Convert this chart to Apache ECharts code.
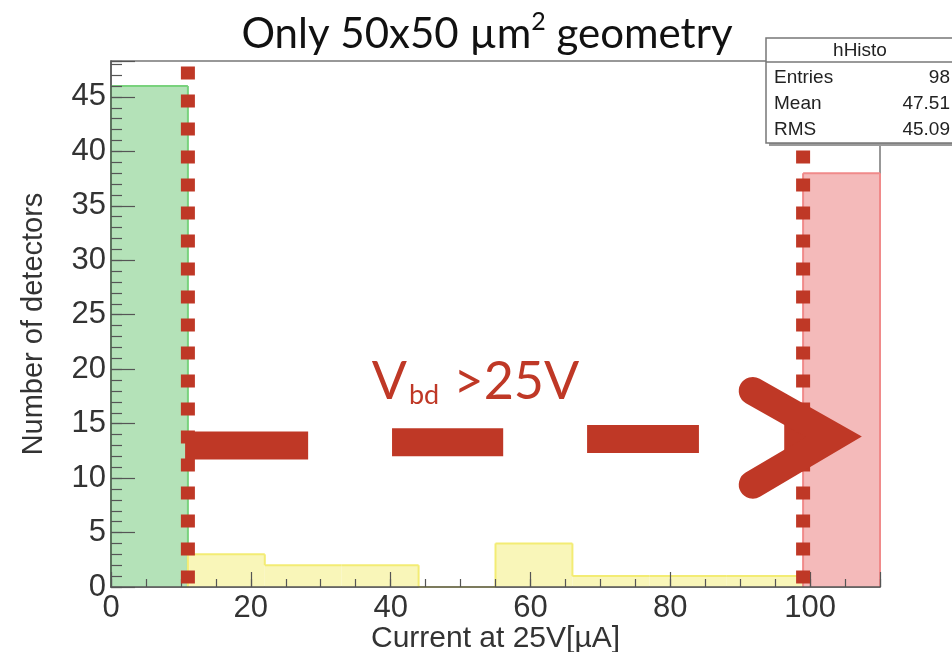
<!DOCTYPE html>
<html>
<head>
<meta charset="utf-8">
<script src="https://cdn.jsdelivr.net/npm/echarts@6/dist/echarts.min.js"></script>
<style>
html, body { margin: 0; padding: 0; background: #ffffff; }
#chart { width: 952px; height: 652px; }
</style>
</head>
<body>
<div id="chart"></div>
<script>
// Leakage current at 25 V for the 50x50 µm² pixel geometry (hHisto)
const binEdges = [0, 11, 22, 33, 44, 55, 66, 77, 88, 99, 110];
const binCounts = [46, 3, 2, 2, 0, 4, 1, 1, 1, 38];
const xTickLabels = [0, 20, 40, 60, 80, 100];
const yTickLabels = [0, 5, 10, 15, 20, 25, 30, 35, 40, 45];
const cutLow = 11;    // current below which detectors are good
const cutHigh = 99;   // current above which breakdown occurs below 25 V
const statsTitle = 'hHisto';
const statsNames = ['Entries', 'Mean', 'RMS'];
const statsValues = ['98', '47.51', '45.09'];

// dashed arrow pointing at the breakdown bin (data units)
const arrowDashes = [[10.6, 28.2, 13.0], [40.2, 56.1, 13.3], [68.1, 84.1, 13.6]];
const arrowHead = { tip: [103.4, 13.8], armX: 91.8, armTop: 18.0, armBottom: 9.4, neckX: 96.3 };
const arrowLabelPos = [37.3, 16.4];

const RED = '#bf3826';
const fills = ['#b4e2b8', '#f9f6b9', '#f4baba'];
const edges = ['#79d27d', '#f3ec74', '#f08a8a'];
const FONT = '"Liberation Sans", Arial, Helvetica, sans-serif';
const SLIDE_FONT = 'Lato, "Open Sans", sans-serif';

function groupOf(i) {
  if (binEdges[i + 1] <= cutLow) return 0;
  if (binEdges[i] >= cutHigh) return 2;
  return 1;
}

const histData = binCounts.map((c, i) => [binEdges[i], binEdges[i + 1], c, i]);

function renderBin(params, api) {
  const x0 = api.value(0), x1 = api.value(1), h = api.value(2), i = api.value(3);
  const g = groupOf(i);
  const pBase = api.coord([x0, 0]);
  const pTop = api.coord([x1, h]);
  const children = [{
    type: 'rect',
    shape: { x: pBase[0], y: pTop[1], width: pTop[0] - pBase[0], height: pBase[1] - pTop[1] },
    style: { fill: fills[g] }
  }];
  const edgeStyle = { stroke: edges[g], lineWidth: 2, fill: null };
  const a = api.coord([x0, h]);
  children.push({ type: 'line', shape: { x1: a[0], y1: a[1], x2: pTop[0], y2: pTop[1] }, style: edgeStyle });
  const prevSame = i > 0 && groupOf(i - 1) === g;
  const leftFrom = prevSame ? binCounts[i - 1] : 0;
  const l0 = api.coord([x0, leftFrom]);
  children.push({ type: 'line', shape: { x1: l0[0], y1: l0[1], x2: a[0], y2: a[1] }, style: edgeStyle });
  const nextSame = i < binCounts.length - 1 && groupOf(i + 1) === g;
  if (!nextSame) {
    const r0 = api.coord([x1, 0]);
    children.push({ type: 'line', shape: { x1: pTop[0], y1: pTop[1], x2: r0[0], y2: r0[1] }, style: edgeStyle });
  }
  return { type: 'group', children };
}

function renderArrow(params, api) {
  const children = [];
  arrowDashes.forEach(d => {
    const p = api.coord([d[0], d[2]]), q = api.coord([d[1], d[2]]);
    children.push({ type: 'polyline', shape: { points: [p, q] },
      style: { stroke: RED, lineWidth: 28, lineCap: 'butt', fill: null } });
  });
  const tip = api.coord(arrowHead.tip);
  const neck = api.coord([arrowHead.neckX, arrowHead.tip[1]]);
  children.push({ type: 'polyline', shape: { points: [neck, tip] },
    style: { stroke: RED, lineWidth: 28, lineCap: 'butt', fill: null } });
  children.push({ type: 'polyline',
    shape: { points: [api.coord([arrowHead.armX, arrowHead.armTop]), tip, api.coord([arrowHead.armX, arrowHead.armBottom])] },
    style: { stroke: RED, lineWidth: 28, lineCap: 'round', lineJoin: 'miter', miterLimit: 10, fill: null } });
  const lp = api.coord(arrowLabelPos);
  children.push({ type: 'text', x: lp[0], y: lp[1],
    style: {
      text: '{a|V}{b|bd}{a| >25V}',
      textAlign: 'left', textVerticalAlign: 'bottom',
      rich: {
        a: { fontFamily: SLIDE_FONT, fontSize: 52, fill: RED, verticalAlign: 'bottom', lineHeight: 60 },
        b: { fontFamily: SLIDE_FONT, fontSize: 27, fill: RED, verticalAlign: 'bottom', lineHeight: 68, padding: [0, 1, 0, 2] }
      }
    } });
  return { type: 'group', children };
}

// statistics box drawn on top of everything in the plot area
function renderStats(params, api) {
  const x = 766, y = 38, w = 200, h = 105;
  const font = '19px ' + FONT;
  const children = [
    { type: 'rect', shape: { x: x + 3, y: y + 3, width: w, height: h }, style: { fill: '#9a9a9a' } },
    { type: 'rect', shape: { x: x, y: y, width: w, height: h }, style: { fill: '#ffffff', stroke: '#777', lineWidth: 1.5 } },
    { type: 'line', shape: { x1: x, y1: y + 24, x2: x + w, y2: y + 24 }, style: { stroke: '#777', lineWidth: 1.5 } },
    { type: 'text', x: x + 94, y: y + 13, style: { text: statsTitle, font: font, fill: '#222', textAlign: 'center', textVerticalAlign: 'middle' } }
  ];
  statsNames.forEach((n, k) => {
    children.push({ type: 'text', x: x + 8, y: y + 40 + k * 26,
      style: { text: n, font: font, fill: '#222', textAlign: 'left', textVerticalAlign: 'middle' } });
    children.push({ type: 'text', x: x + 184, y: y + 40 + k * 26,
      style: { text: statsValues[k], font: font, fill: '#222', textAlign: 'right', textVerticalAlign: 'middle' } });
  });
  return { type: 'group', children };
}

const chart = echarts.init(document.getElementById('chart'), null, { renderer: 'canvas' });

const axisLabelStyle = { fontFamily: FONT, fontSize: 31, color: '#333' };
const tickLine = { color: '#555', width: 1.2 };

chart.setOption({
  animation: false,
  backgroundColor: '#ffffff',
  grid: {
    left: 111, right: 72, top: 61, bottom: 65, outerBoundsMode: 'none', containLabel: false,
    show: true, borderColor: '#777', borderWidth: 1.5, backgroundColor: 'transparent'
  },
  xAxis: [
    {
      type: 'value', position: 'bottom', min: 0, max: 110, interval: 20, z: 3,
      axisLine: { show: true, lineStyle: { color: '#555', width: 1.5 } },
      axisTick: { show: true, inside: true, length: 15, lineStyle: tickLine },
      axisLabel: { margin: 6, ...axisLabelStyle, formatter: v => xTickLabels.includes(v) ? String(v) : '' },
      splitLine: { show: false },
      name: 'Current at 25V[µA]', nameLocation: 'middle', nameGap: 37, nameMoveOverlap: false,
      nameTextStyle: { fontFamily: FONT, fontSize: 30, color: '#333' }
    },
    {
      type: 'value', position: 'bottom', min: 0, max: 110, interval: 5, z: 3,
      axisLine: { show: false },
      axisTick: { show: true, inside: true, length: 8, lineStyle: tickLine },
      axisLabel: { show: false }, splitLine: { show: false }
    }
  ],
  yAxis: [
    {
      type: 'value', position: 'left', min: 0, max: 48.3, interval: 5, z: 3,
      axisLine: { show: true, lineStyle: { color: '#555', width: 1.5 } },
      axisTick: { show: true, inside: true, length: 24, lineStyle: tickLine },
      axisLabel: { margin: 5, ...axisLabelStyle, formatter: v => yTickLabels.includes(v) ? String(v) : '' },
      splitLine: { show: false },
      name: 'Number of detectors', nameLocation: 'middle', nameGap: 63, nameMoveOverlap: false,
      nameTextStyle: { fontFamily: FONT, fontSize: 29, color: '#333' }
    },
    {
      type: 'value', position: 'left', min: 0, max: 48.3, interval: 1, z: 3,
      axisLine: { show: false },
      axisTick: { show: true, inside: true, length: 11, lineStyle: tickLine },
      axisLabel: { show: false }, splitLine: { show: false }
    }
  ],
  series: [
    { type: 'custom', name: 'hHisto', z: 1, xAxisIndex: 0, yAxisIndex: 0, data: histData, renderItem: renderBin, clip: false },
    {
      type: 'line', z: 4, xAxisIndex: 0, yAxisIndex: 0, symbol: 'none', clip: false,
      data: [[cutLow, 47.8], [cutLow, -0.5]],
      lineStyle: { color: RED, width: 14, type: [13, 15], cap: 'butt' }
    },
    {
      type: 'line', z: 4, xAxisIndex: 0, yAxisIndex: 0, symbol: 'none', clip: false,
      data: [[cutHigh, 47.8], [cutHigh, -0.5]],
      lineStyle: { color: RED, width: 14, type: [13, 15], cap: 'butt' }
    },
    { type: 'custom', z: 5, xAxisIndex: 0, yAxisIndex: 0, data: [[0, 0]], renderItem: renderArrow, clip: false },
    { type: 'custom', z: 20, xAxisIndex: 0, yAxisIndex: 0, data: [[0, 0]], renderItem: renderStats, clip: false, silent: true }
  ],
  graphic: [
    {
      type: 'text', x: 487, y: 55,
      style: {
        text: '{t|Only 50x50 µm}{s|2}{t| geometry}',
        textAlign: 'center', textVerticalAlign: 'bottom',
        rich: {
          t: { fontFamily: SLIDE_FONT, fontSize: 42, fill: '#111', verticalAlign: 'bottom', lineHeight: 46 },
          s: { fontFamily: SLIDE_FONT, fontSize: 25, fill: '#111', verticalAlign: 'top', lineHeight: 46 }
        }
      }
    }
  ]
});
</script>
</body>
</html>
